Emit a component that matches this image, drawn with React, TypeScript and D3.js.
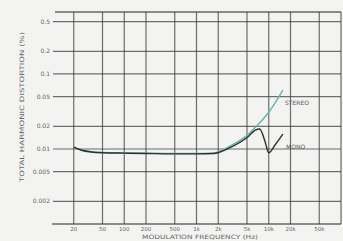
import React from "react";
import * as d3 from "d3";

const W = 343;
const H = 241;

const xTicks = [20, 50, 100, 200, 500, 1000, 2000, 5000, 10000, 20000, 50000, 100000];
const xTickLabels = ["20", "50", "100", "200", "500", "1k", "2k", "5k", "10k", "20k", "50k", ""];
const yTicks = [0.5, 0.2, 0.1, 0.05, 0.02, 0.01, 0.005, 0.002];
const yTickLabels = ["0.5", "0.2", "0.1", "0.05", "0.02", "0.01", "0.005", "0.002"];

const stereoFreq = [20, 25, 35, 50, 100, 200, 500, 1000, 1700, 2900, 5000, 6900, 9500, 12200, 15700];
const stereoThd = [0.0106, 0.0098, 0.0092, 0.009, 0.0089, 0.0088, 0.0087, 0.0087, 0.0088, 0.0109, 0.0152, 0.0205, 0.029, 0.041, 0.061];

const monoFreq = [20, 25, 35, 50, 100, 200, 500, 1000, 1700, 2900, 5000, 6500, 7500, 8900, 10000, 12200, 15700];
const monoThd = [0.0106, 0.0097, 0.0091, 0.0089, 0.0088, 0.0087, 0.0086, 0.0086, 0.0087, 0.0104, 0.0142, 0.0178, 0.0185, 0.0125, 0.0089, 0.0113, 0.0158];

export default function App() {
  const x = d3.scaleLog().domain([10, 100000]).range([52, 341]);
  const y = d3.scaleLog().domain([0.001, 0.67]).range([224, 12]);

  const line = d3
    .line<[number, number]>()
    .x((d) => x(d[0]))
    .y((d) => y(d[1]))
    .curve(d3.curveMonotoneX);

  const stereo = stereoFreq.map((f, i) => [f, stereoThd[i]] as [number, number]);
  const mono = monoFreq.map((f, i) => [f, monoThd[i]] as [number, number]);

  const font = "'DejaVu Sans', sans-serif";
  const grid = "#3a3a3a";

  return (
    <svg
      width={W}
      height={H}
      style={{ position: "absolute", left: 0, top: 0 }}
      fontFamily={font}
    >
      <rect x={0} y={0} width={W} height={H} fill="#f3f3f1" />
      <line x1={55} x2={341} y1={y(0.67)} y2={y(0.67)} stroke={grid} strokeWidth={1.3} opacity={0.75} />
      {yTicks.map((v, i) => (
        <g key={"y" + i}>
          <line x1={53} x2={341} y1={y(v)} y2={y(v)} stroke={grid} strokeWidth={1.2} opacity={0.72} />
          <text x={50} y={y(v) + 2} fontSize={6} textAnchor="end" fill="#666">
            {yTickLabels[i]}
          </text>
        </g>
      ))}
      <line x1={52} x2={341} y1={224} y2={224} stroke={grid} strokeWidth={1.3} opacity={0.75} />
      {xTicks.map((f, i) => (
        <g key={"x" + i}>
          <line x1={x(f)} x2={x(f)} y1={y(0.67)} y2={224} stroke={grid} strokeWidth={1.2} opacity={0.72} />
          <text x={x(f)} y={231} fontSize={5.5} textAnchor="middle" fill="#666">
            {xTickLabels[i]}
          </text>
        </g>
      ))}
      <path d={line(stereo) || ""} fill="none" stroke="#5fb8b2" strokeWidth={1.4} />
      <path d={line(mono) || ""} fill="none" stroke="#2a342e" strokeWidth={1.4} />
      <text x={285} y={105} fontSize={6} fill="#555">STEREO</text>
      <text x={286} y={149} fontSize={6} fill="#555">MONO</text>
      <text
        transform={`translate(24,182) rotate(-90)`}
        fontSize={6}
        fill="#666"
        textLength={150}
        lengthAdjust="spacingAndGlyphs"
      >
        TOTAL HARMONIC DISTORTION (%)
      </text>
      <text
        x={142}
        y={239}
        fontSize={6}
        fill="#666"
        textLength={116}
        lengthAdjust="spacingAndGlyphs"
      >
        MODULATION FREQUENCY (Hz)
      </text>
    </svg>
  );
}
